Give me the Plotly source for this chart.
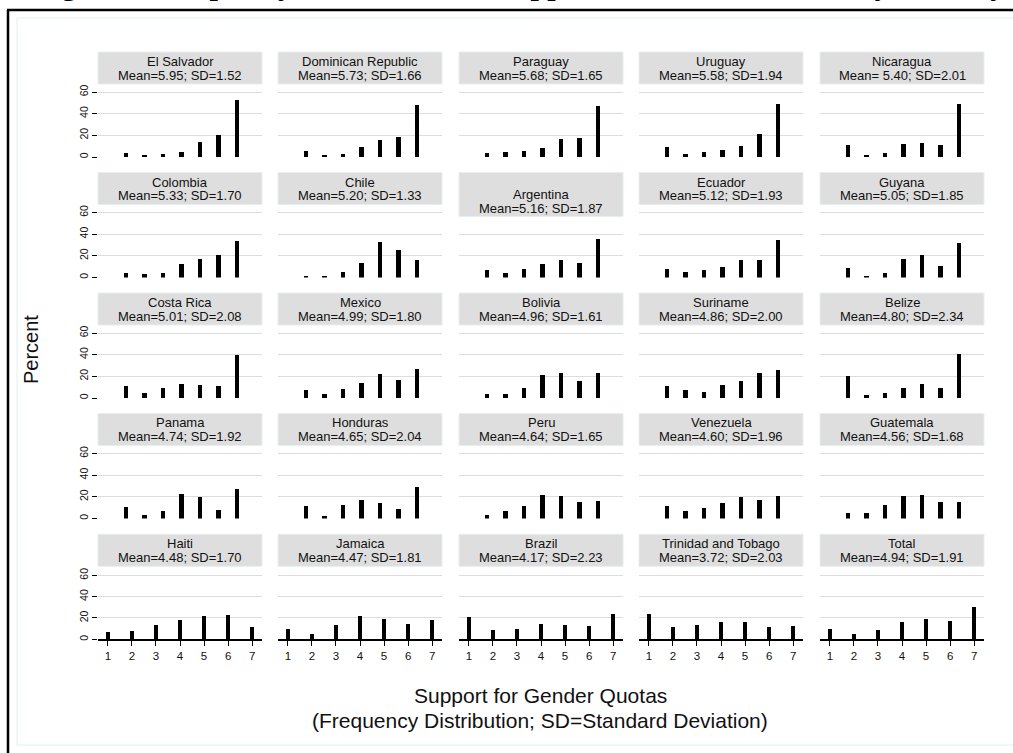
import plotly.graph_objects as go

# ---- data -------------------------------------------------------------
categories = [1, 2, 3, 4, 5, 6, 7]

countries = [
    "El Salvador", "Dominican Republic", "Paraguay", "Uruguay", "Nicaragua",
    "Colombia", "Chile", "Argentina", "Ecuador", "Guyana",
    "Costa Rica", "Mexico", "Bolivia", "Suriname", "Belize",
    "Panama", "Honduras", "Peru", "Venezuela", "Guatemala",
    "Haiti", "Jamaica", "Brazil", "Trinidad and Tobago", "Total",
]

stat_labels = [
    "Mean=5.95; SD=1.52", "Mean=5.73; SD=1.66", "Mean=5.68; SD=1.65", "Mean=5.58; SD=1.94", "Mean= 5.40; SD=2.01",
    "Mean=5.33; SD=1.70", "Mean=5.20; SD=1.33", "Mean=5.16; SD=1.87", "Mean=5.12; SD=1.93", "Mean=5.05; SD=1.85",
    "Mean=5.01; SD=2.08", "Mean=4.99; SD=1.80", "Mean=4.96; SD=1.61", "Mean=4.86; SD=2.00", "Mean=4.80; SD=2.34",
    "Mean=4.74; SD=1.92", "Mean=4.65; SD=2.04", "Mean=4.64; SD=1.65", "Mean=4.60; SD=1.96", "Mean=4.56; SD=1.68",
    "Mean=4.48; SD=1.70", "Mean=4.47; SD=1.81", "Mean=4.17; SD=2.23", "Mean=3.72; SD=2.03", "Mean=4.94; SD=1.91",
]

# percent of respondents choosing each point of the 1-7 scale
el_salvador = [4.0, 2.0, 3.0, 5.0, 14.0, 20.0, 53.0]
dominican_republic = [5.5, 1.5, 2.8, 9.2, 16.0, 18.8, 47.7]
paraguay = [3.5, 4.6, 5.2, 8.0, 16.6, 17.2, 47.0]
uruguay = [9.5, 3.0, 4.3, 6.2, 9.8, 21.0, 48.6]
nicaragua = [10.8, 2.2, 4.0, 12.0, 13.2, 11.4, 48.6]
colombia = [5.0, 4.0, 5.0, 13.0, 18.0, 21.0, 34.0]
chile = [2.0, 2.0, 6.0, 14.0, 33.0, 26.0, 17.0]
argentina = [7.0, 5.0, 8.0, 13.0, 17.0, 14.0, 36.0]
ecuador = [8.0, 6.0, 7.0, 10.0, 17.0, 17.0, 35.0]
guyana = [9.0, 2.0, 5.0, 18.0, 21.0, 11.0, 32.0]
costa_rica = [11.0, 5.0, 9.0, 13.0, 12.0, 11.0, 40.0]
mexico = [7.0, 4.0, 8.0, 14.0, 22.0, 17.0, 27.0]
bolivia = [4.0, 4.0, 9.0, 21.0, 23.0, 16.0, 23.0]
suriname = [11.0, 7.0, 6.0, 12.0, 16.0, 23.0, 26.0]
belize = [20.0, 3.0, 5.0, 9.0, 13.0, 9.0, 41.0]
panama = [11.0, 4.0, 7.0, 23.0, 20.0, 8.0, 28.0]
honduras = [12.0, 3.0, 13.0, 18.0, 15.0, 9.0, 30.0]
peru = [4.0, 7.0, 12.0, 22.0, 21.0, 16.0, 17.0]
venezuela = [12.0, 7.0, 10.0, 15.0, 20.0, 18.0, 21.0]
guatemala = [6.0, 6.0, 13.0, 21.0, 22.0, 16.0, 16.0]
haiti = [7.0, 7.6, 13.3, 18.0, 21.2, 22.8, 11.0]
jamaica = [9.5, 4.8, 13.0, 22.0, 19.0, 14.0, 18.0]
brazil = [21.0, 8.0, 9.0, 14.0, 13.0, 12.0, 23.0]
trinidad_and_tobago = [23.0, 10.8, 13.6, 16.4, 15.5, 11.4, 12.6]
total = [9.5, 4.8, 8.0, 15.6, 18.7, 16.5, 30.5]

series = [
    el_salvador, dominican_republic, paraguay, uruguay, nicaragua,
    colombia, chile, argentina, ecuador, guyana,
    costa_rica, mexico, bolivia, suriname, belize,
    panama, honduras, peru, venezuela, guatemala,
    haiti, jamaica, brazil, trinidad_and_tobago, total,
]

y_ticks = [0, 20, 40, 60]

# ---- geometry (pixels) -------------------------------------------------
W, H = 1013, 753
col_left = [98, 278, 459, 639, 820]
col_w = 164
row_zero = [157, 277.5, 398, 518.5, 639.3]
plot_h = 73
strip_h = 32


def fx(px):
    return px / W


def fy(py):
    return 1 - py / H


fig = go.Figure()
shapes = []
annotations = []
TEXT_FONT = "Liberation Sans, Arial, sans-serif"

for i, (name, lab, vals) in enumerate(zip(countries, stat_labels, series)):
    r, c = divmod(i, 5)
    k = i + 1
    xa = "x" if k == 1 else f"x{k}"
    ya = "y" if k == 1 else f"y{k}"
    bottom_row = r == 4

    fig.add_trace(go.Bar(
        x=categories, y=vals, xaxis=xa, yaxis=ya,
        width=0.19 if bottom_row else 0.22,
        marker=dict(color="black", line=dict(width=0)),
        showlegend=False, hoverinfo="x+y",
    ))

    left = col_left[c]
    zero = row_zero[r]
    top = zero - plot_h

    xaxis = dict(
        domain=[fx(left), fx(left + col_w)], anchor=ya,
        range=[0.59, 7.41] if bottom_row else [-0.51, 8.35],
        showgrid=False, zeroline=False,
        fixedrange=True,
    )
    if bottom_row:
        xaxis.update(
            showline=True, linecolor="black", linewidth=1.5,
            ticks="outside", ticklen=5, tickcolor="black", tickwidth=1,
            tickvals=categories, showticklabels=True,
            tickfont=dict(family=TEXT_FONT, size=11.5, color="#111"),
        )
    else:
        xaxis.update(showline=False, ticks="", showticklabels=False)

    yaxis = dict(
        domain=[fy(zero), fy(top)], anchor=xa,
        range=[0, 68.5 if bottom_row else 67.4],
        tickvals=y_ticks, showgrid=True, gridcolor="#dcdcdc", gridwidth=1,
        zeroline=False, showline=False, fixedrange=True,
    )
    if c == 0:
        yaxis.update(
            ticks="outside", ticklen=5, tickcolor="black", tickwidth=1,
            showticklabels=True, tickangle=-90,
            tickfont=dict(family=TEXT_FONT, size=10.5, color="#111"),
        )
    else:
        yaxis.update(ticks="", showticklabels=False)

    fig.layout[xa.replace("x", "xaxis")] = xaxis
    fig.layout[ya.replace("y", "yaxis")] = yaxis

    # panel header strip
    extra = 12 if name == "Argentina" else 0
    s_top = top - strip_h
    s_bot = top + extra
    shapes.append(dict(
        type="rect", xref="paper", yref="paper",
        x0=fx(left), x1=fx(left + col_w), y0=fy(s_bot), y1=fy(s_top),
        fillcolor="#dedede", line=dict(color="#e6eef0", width=1), layer="above",
    ))
    for line_txt, off in ((name, 9.5 + extra * 1.05), (lab, 23 + extra * 1.05)):
        annotations.append(dict(
            xref="paper", yref="paper", x=fx(left + col_w / 2), y=fy(s_top + off),
            xanchor="center", yanchor="middle", showarrow=False, text=line_txt,
            font=dict(family=TEXT_FONT, size=13, color="#111"),
        ))

# axis titles
annotations.append(dict(
    xref="paper", yref="paper", x=fx(31), y=fy(350), textangle=-90,
    xanchor="center", yanchor="middle", showarrow=False, text="Percent",
    font=dict(family=TEXT_FONT, size=20, color="#111"),
))
annotations.append(dict(
    xref="paper", yref="paper", x=fx(540), y=fy(695),
    xanchor="center", yanchor="middle", showarrow=False, text="Support for Gender Quotas",
    font=dict(family=TEXT_FONT, size=21, color="#111"),
))
annotations.append(dict(
    xref="paper", yref="paper", x=fx(540), y=fy(720),
    xanchor="center", yanchor="middle", showarrow=False,
    text="(Frequency Distribution; SD=Standard Deviation)",
    font=dict(family=TEXT_FONT, size=21, color="#111"),
))
# figure caption running above the frame (only its lower edge falls on the page)
annotations.append(dict(
    xref="paper", yref="paper", x=fx(520), y=fy(2.2), xanchor="center", yanchor="bottom",
    showarrow=False, borderpad=0,
    text="<b>Figure 2. Frequency Distribution of Support for Gender Quotas by Country</b>",
    font=dict(family="Liberation Serif, Times New Roman, serif", size=30, color="black"),
))

# outer graph region (faint) and document frame (black)
shapes.append(dict(
    type="rect", xref="paper", yref="paper",
    x0=fx(17), x1=fx(1030), y0=fy(745), y1=fy(18),
    line=dict(color="#e4eeee", width=1), fillcolor="rgba(0,0,0,0)", layer="below",
))
shapes.append(dict(
    type="line", xref="paper", yref="paper",
    x0=fx(7), x1=1.0, y0=fy(10), y1=fy(10), line=dict(color="black", width=2.5),
))
shapes.append(dict(
    type="line", xref="paper", yref="paper",
    x0=fx(8), x1=fx(8), y0=fy(10), y1=0, line=dict(color="black", width=2.5),
))

fig.update_layout(
    width=W, height=H,
    margin=dict(l=0, r=0, t=0, b=0),
    paper_bgcolor="white", plot_bgcolor="white",
    shapes=shapes, annotations=annotations,
    bargap=0, showlegend=False,
)

fig.write_html("out.html")
